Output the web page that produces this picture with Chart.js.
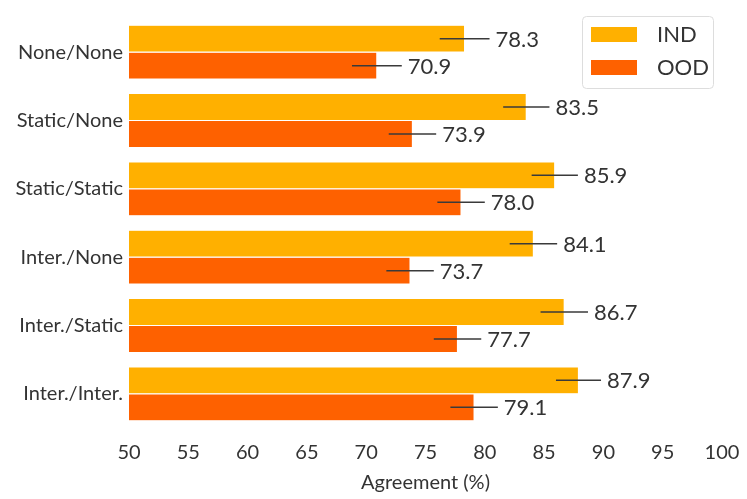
<!DOCTYPE html>
<html>
<head>
<meta charset="utf-8">
<script src="https://cdn.jsdelivr.net/npm/chart.js@4"></script>
<style>
  html, body { margin: 0; padding: 0; background: #fff; }
  #wrap { width: 747px; height: 499px; }
</style>
</head>
<body>
<div id="wrap"><canvas id="barChart" width="747" height="499"></canvas></div>
<script>
// categories and values
var categories = ['None/None', 'Static/None', 'Static/Static', 'Inter./None', 'Inter./Static', 'Inter./Inter.'];
var indValues = [78.3, 83.5, 85.9, 84.1, 86.7, 87.9];
var oodValues = [70.9, 73.9, 78.0, 73.7, 77.7, 79.1];
var indErrors = [2.1, 1.95, 1.95, 2.0, 2.0, 1.9];
var oodErrors = [2.1, 2.0, 2.0, 2.0, 2.0, 2.0];
var xTicks = [50, 55, 60, 65, 70, 75, 80, 85, 90, 95, 100];

var FONT = 'Lato, "DejaVu Sans", sans-serif';
var TEXT = '#333333';

// error lines + value labels, drawn after the bars
var errorBarPlugin = {
    id: 'errorBars',
    afterDatasetsDraw: function(chart) {
        var ctx = chart.ctx;
        var xScale = chart.scales.x;
        var errs = [indErrors, oodErrors];
        ctx.save();
        chart.data.datasets.forEach(function(ds, di) {
            var meta = chart.getDatasetMeta(di);
            meta.data.forEach(function(bar, i) {
                var v = ds.data[i];
                var x0 = xScale.getPixelForValue(v - errs[di][i]);
                var x1 = xScale.getPixelForValue(v + errs[di][i]);
                ctx.strokeStyle = '#3a3a3a';
                ctx.lineWidth = 1.5;
                ctx.beginPath();
                ctx.moveTo(x0, bar.y);
                ctx.lineTo(x1, bar.y);
                ctx.stroke();
                ctx.fillStyle = TEXT;
                ctx.font = '22px ' + FONT;
                ctx.textAlign = 'left';
                ctx.textBaseline = 'middle';
                ctx.fillText(v.toFixed(1), x1 + 6, bar.y + 1);
            });
        });
        ctx.restore();
    }
};

// legend box in the upper right corner
var legendBoxPlugin = {
    id: 'legendBox',
    afterDraw: function(chart) {
        var ctx = chart.ctx;
        var bx = 582, by = 16, bw = 131, bh = 72;
        ctx.save();
        ctx.fillStyle = 'rgba(255,255,255,0.85)';
        ctx.strokeStyle = '#dddddd';
        ctx.lineWidth = 1;
        ctx.beginPath();
        ctx.roundRect(bx + 0.5, by + 0.5, bw, bh, 4);
        ctx.fill();
        ctx.stroke();
        chart.data.datasets.forEach(function(ds, di) {
            var cy = by + 18 + di * 33;
            ctx.fillStyle = ds.backgroundColor;
            ctx.fillRect(bx + 9, cy - 7, 46, 15);
            ctx.fillStyle = TEXT;
            ctx.font = '22px ' + FONT;
            ctx.textAlign = 'left';
            ctx.textBaseline = 'middle';
            ctx.fillText(ds.label, bx + 75, cy + 1);
        });
        ctx.restore();
    }
};

var ctxBar = document.getElementById('barChart').getContext('2d');
var barChart = new Chart(ctxBar, {
    type: 'bar',
    data: {
        labels: categories,
        datasets: [{
            label: 'IND',
            data: indValues,
            backgroundColor: '#FFB000',
            borderColor: '#ffffff',
            borderWidth: 0.6
        }, {
            label: 'OOD',
            data: oodValues,
            backgroundColor: '#FE6100',
            borderColor: '#ffffff',
            borderWidth: 0.6
        }]
    },
    options: {
        indexAxis: 'y',
        responsive: false,
        animation: false,
        layout: { padding: { top: 17, right: 0, left: 0, bottom: 0 } },
        datasets: {
            bar: { categoryPercentage: 0.79, barPercentage: 1.0 }
        },
        plugins: {
            legend: { display: false },
            tooltip: { enabled: false }
        },
        scales: {
            x: {
                min: 50,
                max: 100,
                afterBuildTicks: function(axis) {
                    axis.ticks = xTicks.map(function(v) { return { value: v }; });
                },
                grid: { display: false, drawTicks: false },
                border: { display: false },
                ticks: { color: TEXT, font: { family: FONT, size: 20 }, padding: 13, maxRotation: 0 },
                title: {
                    display: true,
                    text: 'Agreement (%)',
                    color: TEXT,
                    font: { family: FONT, size: 20 },
                    padding: { top: 0, bottom: 4 }
                },
                afterFit: function(axis) {
                    axis.height = 71;
                    axis.paddingRight = 25;
                }
            },
            y: {
                grid: { display: false, drawTicks: false },
                border: { display: false },
                ticks: { color: TEXT, font: { family: FONT, size: 20 }, padding: 6 },
                afterFit: function(axis) { axis.width = 129; }
            }
        }
    },
    plugins: [errorBarPlugin, legendBoxPlugin]
});
</script>
</body>
</html>
